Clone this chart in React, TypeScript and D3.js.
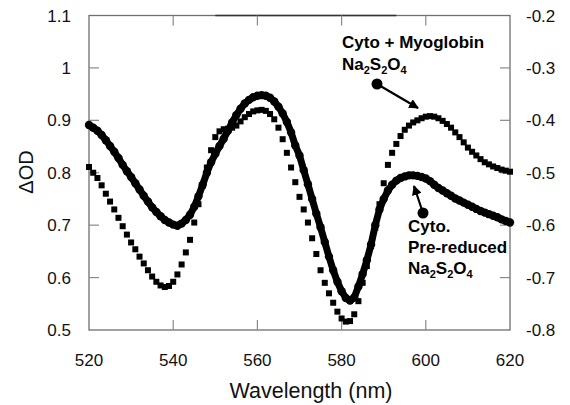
import React from "react";
import * as d3 from "d3";

const wavelengths: number[] = d3.range(520, 621, 1);

// Cyto. pre-reduced Na2S2O4 (dense circles, left axis)
const cytoPreReduced: number[] = [
  0.891, 0.886, 0.880, 0.872, 0.862, 0.851, 0.840, 0.828, 0.815, 0.803,
  0.792, 0.780, 0.768, 0.756, 0.745, 0.734, 0.725, 0.717, 0.710, 0.705,
  0.701, 0.699, 0.703, 0.710, 0.720, 0.735, 0.755, 0.777, 0.800, 0.820,
  0.836, 0.851, 0.865, 0.880, 0.896, 0.910, 0.922, 0.932, 0.939, 0.944,
  0.947, 0.948, 0.947, 0.943, 0.936, 0.926, 0.913, 0.897, 0.877, 0.852,
  0.833, 0.805, 0.778, 0.750, 0.722, 0.696, 0.668, 0.640, 0.614, 0.592,
  0.574, 0.561, 0.556, 0.562, 0.583, 0.607, 0.633, 0.663, 0.700, 0.730,
  0.750, 0.766, 0.777, 0.785, 0.790, 0.793, 0.795, 0.795, 0.794, 0.792,
  0.789, 0.784, 0.777, 0.771, 0.766, 0.761, 0.756, 0.751, 0.747, 0.743,
  0.739, 0.735, 0.731, 0.727, 0.724, 0.721, 0.718, 0.715, 0.711, 0.708,
  0.705,
];

// Cyto + Myoglobin Na2S2O4 (squares)
const cytoMyoglobin: number[] = [
  0.811, 0.800, 0.790, 0.776, 0.760, 0.745, 0.730, 0.714, 0.698, 0.682,
  0.667, 0.654, 0.640, 0.627, 0.614, 0.602, 0.592, 0.585, 0.582, 0.584,
  0.592, 0.606, 0.625, 0.648, 0.672, 0.705, 0.740, 0.775, 0.810, 0.843,
  0.868, 0.879, 0.883, 0.884, 0.886, 0.890, 0.898, 0.906, 0.912, 0.917,
  0.919, 0.920, 0.918, 0.912, 0.902, 0.886, 0.864, 0.838, 0.810, 0.782,
  0.754, 0.730, 0.705, 0.675, 0.645, 0.614, 0.590, 0.570, 0.552, 0.535,
  0.522, 0.516, 0.517, 0.530, 0.555, 0.590, 0.622, 0.660, 0.695, 0.740,
  0.780, 0.815, 0.838, 0.855, 0.870, 0.882, 0.890, 0.896, 0.900, 0.904,
  0.907, 0.908, 0.907, 0.904, 0.899, 0.893, 0.886, 0.877, 0.868, 0.858,
  0.848, 0.840, 0.833, 0.826, 0.820, 0.816, 0.812, 0.809, 0.806, 0.804,
  0.802,
];

const xTicks: number[] = [520, 540, 560, 580, 600, 620];
const yLeftTicks: number[] = [0.5, 0.6, 0.7, 0.8, 0.9, 1, 1.1];
const yRightTicks: number[] = [-0.8, -0.7, -0.6, -0.5, -0.4, -0.3, -0.2];

const FONT = "'Liberation Sans', Arial, Helvetica, sans-serif";

export default function App() {
  const W = 570;
  const H = 405;
  const left = 89, right = 510, top = 15.5, bottom = 330;
  const x = d3.scaleLinear().domain([520, 620]).range([left, right]);
  const y = d3.scaleLinear().domain([0.5, 1.1]).range([bottom, top]);
  const yR = d3.scaleLinear().domain([-0.8, -0.2]).range([bottom, top]);

  const line = d3
    .line<number>()
    .x((_, i) => x(wavelengths[i]))
    .y((d) => y(d))
    .curve(d3.curveLinear);

  const frameColor = "#6f6f6f";
  const tickColor = "#8a8a8a";
  const tickLen = 10;
  const sq = 6;

  const sub = (t: string) => (
    <tspan fontSize={11} dy={4}>{t}</tspan>
  );
  const up = (t: string) => <tspan dy={-4}>{t}</tspan>;

  return (
    <svg
      width={W}
      height={H}
      style={{ position: "absolute", left: 0, top: 0, background: "#fff" }}
      fontFamily={FONT}
    >
      <rect x={0} y={0} width={W} height={H} fill="#fff" />

      {/* frame */}
      <rect
        x={left}
        y={top}
        width={right - left}
        height={bottom - top}
        fill="none"
        stroke={frameColor}
        strokeWidth={1.3}
      />
      <line x1={x(550)} x2={x(593)} y1={top} y2={top} stroke="#333" strokeWidth={1.6} />

      {/* ticks */}
      {xTicks.slice(1, -1).map((t) => (
        <g key={"xt" + t}>
          <line x1={x(t)} x2={x(t)} y1={bottom} y2={bottom - tickLen} stroke={tickColor} strokeWidth={1.2} />
          <line x1={x(t)} x2={x(t)} y1={top} y2={top + tickLen} stroke={tickColor} strokeWidth={1.2} />
        </g>
      ))}
      {yLeftTicks.slice(1, -1).map((t) => (
        <line key={"yl" + t} x1={left} x2={left + tickLen} y1={y(t)} y2={y(t)} stroke={tickColor} strokeWidth={1.2} />
      ))}
      {yRightTicks.slice(1, -1).map((t) => (
        <line key={"yr" + t} x1={right} x2={right - tickLen} y1={yR(t)} y2={yR(t)} stroke={tickColor} strokeWidth={1.2} />
      ))}

      {/* tick labels */}
      {xTicks.map((t) => (
        <text key={"xl" + t} x={x(t)} y={366} textAnchor="middle" fontSize={17} fill="#111">
          {t}
        </text>
      ))}
      {yLeftTicks.map((t) => (
        <text key={"yll" + t} x={71} y={y(t) + 6} textAnchor="end" fontSize={17} fill="#111">
          {d3.format("~g")(t)}
        </text>
      ))}
      {yRightTicks.map((t) => (
        <text key={"yrl" + t} x={526} y={yR(t) + 6} textAnchor="start" fontSize={17} fill="#111">
          {d3.format(".1f")(t).replace("−", "-")}
        </text>
      ))}

      {/* axis titles */}
      <text x={311} y={398} textAnchor="middle" fontSize={21.5} fill="#111">
        Wavelength (nm)
      </text>
      <text
        transform={`translate(33,172) rotate(-90)`}
        textAnchor="middle"
        fontSize={20}
        fill="#111"
      >
        ΔOD
      </text>

      {/* series: squares */}
      <g fill="#000">
        {cytoMyoglobin.map((v, i) => (
          <rect key={"q" + i} x={x(wavelengths[i]) - sq / 2} y={y(v) - sq / 2} width={sq} height={sq} />
        ))}
      </g>

      {/* series: dense circles */}
      <path d={line(cytoPreReduced) || ""} fill="none" stroke="#000" strokeWidth={7} strokeLinejoin="round" />
      <g fill="#000">
        {cytoPreReduced.map((v, i) => (
          <circle key={"c" + i} cx={x(wavelengths[i])} cy={y(v)} r={4.2} />
        ))}
      </g>

      {/* annotations */}
      <defs>
        <marker id="ah" viewBox="0 0 10 10" refX="9" refY="5" markerWidth="4.5" markerHeight="4.5" orient="auto">
          <path d="M0,0 L10,5 L0,10 z" fill="#000" />
        </marker>
      </defs>
      <g fontWeight="bold" fontSize={17} fill="#000">
        <text x={342} y={48}>Cyto + Myoglobin</text>
        <text x={342} y={70}>
          Na{sub("2")}
          {up("S")}
          {sub("2")}
          {up("O")}
          {sub("4")}
        </text>
        <text x={408} y={232}>Cyto.</text>
        <text x={408} y={253}>Pre-reduced</text>
        <text x={408} y={274}>
          Na{sub("2")}
          {up("S")}
          {sub("2")}
          {up("O")}
          {sub("4")}
        </text>
      </g>
      <circle cx={377} cy={84} r={5.5} fill="#000" />
      <line x1={377} y1={84} x2={418} y2={108} stroke="#000" strokeWidth={2.2} markerEnd="url(#ah)" />
      <circle cx={423} cy={213} r={5.5} fill="#000" />
      <line x1={423} y1={213} x2={414} y2={186} stroke="#000" strokeWidth={2.2} markerEnd="url(#ah)" />
    </svg>
  );
}
